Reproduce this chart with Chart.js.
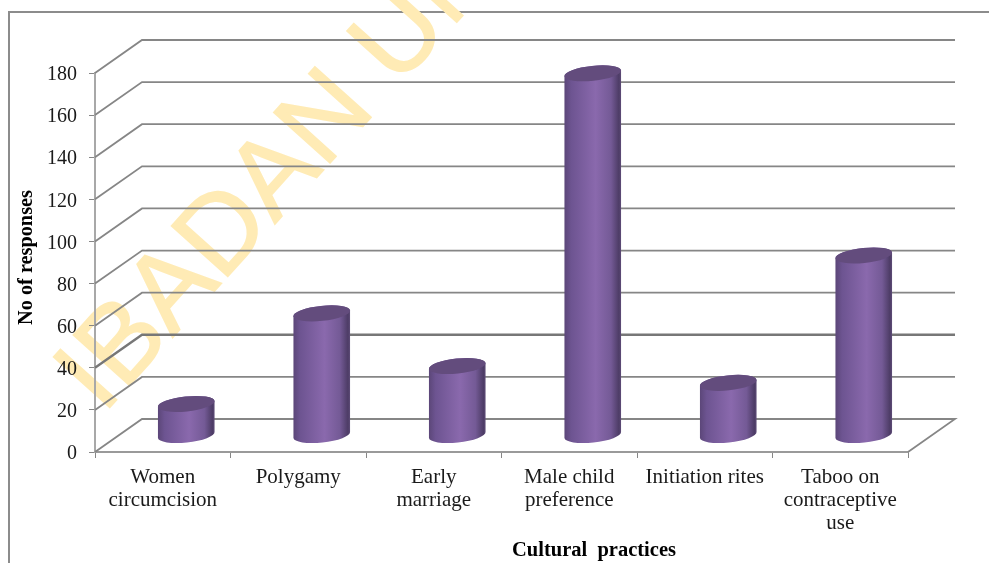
<!DOCTYPE html>
<html><head><meta charset="utf-8">
<style>html,body{margin:0;padding:0;background:#fff}#wrap{position:relative;width:989px;height:563px}</style>
<script src="https://cdn.jsdelivr.net/npm/chart.js@4"></script>
</head><body><div id="wrap"><canvas id="c" width="989" height="563"></canvas></div>
<script>
const categories = [["Women","circumcision"],["Polygamy"],["Early","marriage"],["Male child","preference"],["Initiation rites"],["Taboo on","contraceptive","use"]];
const responses = [15, 58, 33, 172, 25, 85.5];
const axisTitleY = "No of responses";
const axisTitleX = "Cultural  practices";
const watermark = "IBADAN UNIVERSITY";
const DEPTH_X = 47, DEPTH_Y = -33;
const GRID = "#868686";

const depth3d = {
  id: "depth3d",
  beforeDraw(chart) {
    const ctx = chart.ctx;
    ctx.save();
    ctx.fillStyle = "#fff";
    ctx.fillRect(0, 0, chart.width, chart.height);
    ctx.strokeStyle = "#8c8c8c"; ctx.lineWidth = 2;
    ctx.beginPath(); ctx.moveTo(9, 563); ctx.lineTo(9, 12); ctx.lineTo(989, 12); ctx.stroke();
    ctx.translate(103, 415);
    ctx.rotate(-48 * Math.PI / 180);
    ctx.font = '110px "Liberation Sans"';
    ctx.fillStyle = "#FFEBB5";
    ctx.strokeStyle = "#FFEBB5"; ctx.lineWidth = 1.5;
    ctx.textBaseline = "alphabetic";
    ctx.fillText(watermark, 0, 0);
    ctx.strokeText(watermark, 0, 0);
    ctx.restore();
  },
  beforeDatasetsDraw(chart) {
    const { ctx, scales: { x, y } } = chart;
    const left = x.left, right = x.right;
    ctx.save();
    y.ticks.forEach(t => {
      const py = y.getPixelForValue(t.value);
      ctx.lineWidth = t.value === 40 ? 2.4 : 1.8;
      ctx.strokeStyle = t.value === 40 ? "#777" : GRID;
      ctx.beginPath();
      ctx.moveTo(left, py);
      ctx.lineTo(left + DEPTH_X, py + DEPTH_Y);
      ctx.lineTo(right + DEPTH_X, py + DEPTH_Y);
      if (t.value === 0) ctx.lineTo(right, py);
      ctx.stroke();
    });
    ctx.restore();
  },
  beforeDatasetDraw(chart, args) {
    const ctx = chart.ctx;
    const meta = chart.getDatasetMeta(args.index);
    meta.data.forEach(el => {
      const p = el.getProps(["x", "y", "base", "width"], true);
      const cx = p.x + DEPTH_X / 2, rx = p.width / 2;
      const top = p.y + DEPTH_Y / 2, bot = p.base + DEPTH_Y / 2;
      const ry = 7.5, rot = -6 * Math.PI / 180;
      const g = ctx.createLinearGradient(cx - rx, 0, cx + rx, 0);
      g.addColorStop(0, "#5b4678");
      g.addColorStop(0.12, "#6d5491");
      g.addColorStop(0.55, "#8a69ad");
      g.addColorStop(0.82, "#745a96");
      g.addColorStop(0.96, "#4d3c66");
      g.addColorStop(1, "#5f4d78");
      ctx.save();
      ctx.fillStyle = g;
      ctx.beginPath();
      ctx.ellipse(cx, top, rx, ry, rot, Math.PI, 2 * Math.PI);
      ctx.ellipse(cx, bot, rx, ry, rot, 0, Math.PI);
      ctx.closePath();
      ctx.fill();
      ctx.fillStyle = "#634c7d";
      ctx.beginPath();
      ctx.ellipse(cx, top, rx, ry, rot, 0, 2 * Math.PI);
      ctx.fill();
      ctx.restore();
    });
    return false;
  },
  afterDraw(chart) {
    const ctx = chart.ctx;
    ctx.save();
    ctx.fillStyle = "#000";
    ctx.textAlign = "center";
    ctx.textBaseline = "middle";
    ctx.font = 'bold 20.5px "Liberation Serif"';
    ctx.fillText(axisTitleX, 594, 551);
    ctx.translate(27, 257.5);
    ctx.rotate(-Math.PI / 2);
    ctx.font = 'bold 20.3px "Liberation Serif"';
    ctx.fillText(axisTitleY, 0, 0);
    ctx.restore();
  }
};

new Chart(document.getElementById("c"), {
  type: "bar",
  data: { labels: categories, datasets: [{ label: axisTitleY, data: responses, backgroundColor: "#8064A2" }] },
  plugins: [depth3d],
  options: {
    responsive: false,
    animation: false,
    categoryPercentage: 1,
    barPercentage: 0.42,
    layout: { padding: { top: 73, right: 81, left: 0, bottom: 0 } },
    plugins: { legend: { display: false }, tooltip: { enabled: false } },
    scales: {
      x: {
        grid: { drawOnChartArea: false, drawTicks: true, tickLength: 6, color: GRID },
        border: { color: "#9a9a9a", width: 2 },
        ticks: { color: "#1a1a1a", font: { family: '"Liberation Serif"', size: 21, lineHeight: 1.1 }, padding: 8, maxRotation: 0, autoSkip: false },
        afterFit(s) { s.height = 111; }
      },
      y: {
        min: 0, max: 180,
        grid: { drawOnChartArea: false, drawTicks: true, tickLength: 6, color: GRID },
        border: { color: "#a8a8a8", width: 2 },
        ticks: { stepSize: 20, color: "#1a1a1a", font: { family: '"Liberation Serif"', size: 20 }, padding: 12, labelOffset: 2 },
        afterFit(s) { s.width = 95; }
      }
    }
  }
});
</script></body></html>
